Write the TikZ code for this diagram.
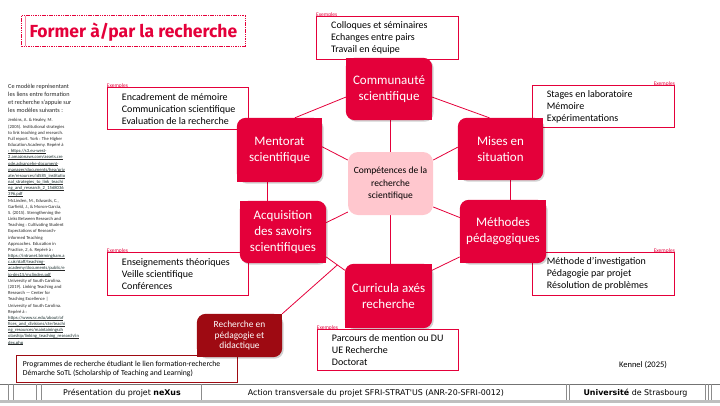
\documentclass[tikz,border=0pt]{standalone}
\usepackage{fontspec}
\setmainfont{Carlito}
\newfontfamily\titlefont{Fira Sans}
\newfontfamily\footfont{DejaVu Sans}
\usetikzlibrary{calc}
\definecolor{ured}{RGB}{228,0,58}
\definecolor{upink}{RGB}{255,199,206}
\definecolor{udark}{RGB}{158,10,18}
\definecolor{lnkc}{RGB}{25,45,45}
\pgfdeclarelayer{bg}
\pgfdeclarelayer{mid}
\pgfsetlayers{bg,mid,main}
\newcommand\lnk[1]{\sbox0{#1}\rlap{\color{black!85}\rule[-1.2pt]{\wd0}{1pt}}{\color{lnkc}#1}}
\newcommand\rfill[3]{%
 \begin{pgfonlayer}{mid}
  \fill[black, opacity=.18, rounded corners=9pt] ([shift={(1.5,1.5)}]#1.north west) rectangle ([shift={(1.5,1.5)}]#1.south east);
  \fill[#2, rounded corners=9pt] (#1.north west) rectangle (#1.south east);
  \ifx a#3
   \fill[#2] (#1.north east) rectangle ++(-10,10);
   \fill[#2] (#1.south west) rectangle ++(10,-10);
  \else
   \fill[#2] (#1.north west) rectangle ++(10,10);
   \fill[#2] (#1.south east) rectangle ++(-10,-10);
  \fi
 \end{pgfonlayer}}
\begin{document}
\begin{tikzpicture}[x=1pt,y=-1pt,
  redbox/.style={inner sep=0pt, align=center, text=white, font=\fontsize{13}{16}\selectfont},
  exbox/.style={draw=ured, line width=0.8pt, fill=white, anchor=north west, inner sep=0pt},
  extext/.style={anchor=west, inner sep=0pt, align=left, font=\fontsize{10}{12}\selectfont},
  exlab/.style={text=ured, inner sep=0pt, font=\fontsize{5.5}{6}\selectfont},
  link/.style={ured, line width=0.8pt},
  foot/.style={inner sep=0pt, font=\footfont\fontsize{7.9}{9}\selectfont}]
\useasboundingbox (0,0) rectangle (720,405);

% title
\draw[ured, line width=0.6pt, dash pattern=on 1.5pt off 0.8pt] (21.7,15.7) rectangle (245,46);
\draw[ured!45, line width=0.9pt] (25,15.7) -- (25,46);
\node[anchor=base west, inner sep=0pt, text=ured, font=\titlefont\bfseries\fontsize{17.5}{20}\selectfont] (title) at (29.3,37.3) {Former à/par la recherche};

% side text
\node[anchor=north west, inner sep=0pt, align=left, text=black!85, font=\fontsize{6.2}{8}\selectfont] (sidetop) at (8,84) {Ce modèle représentant\\les liens entre formation\\et recherche s'appuie sur\\les modèles suivants :};
\node[anchor=north west, inner sep=0pt, align=left, text=black!85, font=\fontsize{4.6}{6.17}\selectfont] (siderefs) at (8,118.5) {Jenkins, A. \& Healey, M.\\(2005). Institutional strategies\\to link teaching and research.\\Full report. York : The Higher\\Education Academy. Repéré à\\\lnk{: https://s3.eu-west-}\\\lnk{2.amazonaws.com/assets.cre}\\\lnk{ode.advancehe-document-}\\\lnk{manager/documents/hea/priv}\\\lnk{ate/resources/id585\_institutio}\\\lnk{nal\_strategies\_to\_link\_teachi}\\\lnk{ng\_and\_research\_2\_1568036}\\\lnk{396.pdf}\\McLinden, M., Edwards, C.,\\Garfield, J., \& Moron-Garcia,\\S. (2015). Strengthening the\\Links Between Research and\\Teaching : Cultivating Student\\Expectations of Research-\\informed Teaching\\Approaches. Education in\\Practice, \emph{2}, 6. Repéré à :\\\lnk{https://intranet.birmingham.a}\\\lnk{c.uk/staff/teaching-}\\\lnk{academy/documents/public/e}\\\lnk{ip-dec15/mclinden.pdf}\\University of South Carolina.\\(2019). Linking Teaching and\\Research — Center for\\Teaching Excellence |\\University of South Carolina.\\Repéré à :\\\lnk{https://www.sc.edu/about/of}\\\lnk{fices\_and\_divisions/cte/teachi}\\\lnk{ng\_resources/maintainingsch}\\\lnk{olarship/linking\_teaching\_research/in}\\\lnk{dex.php}};

% main nodes
\node[redbox, minimum width=86pt, minimum height=62pt] (comm) at (389,89) {Communauté\\scientifique};
\node[redbox, minimum width=85pt, minimum height=64pt] (ment) at (279.5,150) {Mentorat\\scientifique};
\node[redbox, minimum width=85pt, minimum height=62pt] (mises) at (500.5,149) {Mises en\\situation};
\node[redbox, minimum width=86pt, minimum height=62pt] (acq) at (283,232) {Acquisition\\des savoirs\\scientifiques};
\node[redbox, minimum width=86pt, minimum height=63pt] (meth) at (503,231.5) {Méthodes\\pédagogiques};
\node[redbox, minimum width=87pt, minimum height=64pt] (curr) at (388.5,296) {Curricula axés\\recherche};
\node[redbox, minimum width=85pt, minimum height=43pt, font=\fontsize{9.4}{10.8}\selectfont] (rech) at (239.5,335.5) {Recherche en\\pédagogie et\\didactique};
\node[fill=upink, rounded corners=10pt, minimum width=85pt, minimum height=63pt, inner sep=0pt, align=center, font=\fontsize{9.5}{12.5}\selectfont] (cent) at (390.5,183.5) {Compétences de la\\recherche\\scientifique};

\rfill{comm}{ured}{b}
\rfill{ment}{ured}{a}
\rfill{mises}{ured}{a}
\rfill{acq}{ured}{b}
\rfill{meth}{ured}{a}
\rfill{curr}{ured}{a}
\rfill{rech}{udark}{a}

\begin{pgfonlayer}{bg}
% connectors
\draw[link] ($(comm.north west)!0.63!(comm.south west)$) -- ($(ment.north west)!0.68!(ment.north east)$);
\draw[link] ($(comm.north east)!0.63!(comm.south east)$) -- ($(mises.north west)!0.37!(mises.north east)$);
\coordinate (mx) at ($(ment.south west)!0.36!(ment.south east)$);
\draw[link] (mx) -- (mx |- acq.north);
\coordinate (sx) at ($(mises.south west)!0.61!(mises.south east)$);
\draw[link] (sx) -- (sx |- meth.north);
\draw[link] ($(acq.north east)!0.9!(acq.south east)$) -- coordinate[pos=0.6] (acm) ($(curr.north west)!0.1!(curr.south west)$);
\draw[link] ($(meth.north west)!0.9!(meth.south west)$) -- ($(curr.north east)!0.1!(curr.south east)$);
\draw[link] (cent.north) -- (cent.north |- comm.south);
\draw[link] (cent.south) -- (cent.south |- curr.north);
\draw[link] ($(cent.north west)!0.13!(cent.south west)$) -- ($(ment.north east)!0.45!(ment.south east)$);
\draw[link] ($(cent.north west)!0.95!(cent.south west)$) -- ($(acq.north east)!0.35!(acq.south east)$);
\draw[link] ($(cent.north east)!0.13!(cent.south east)$) -- ($(mises.north west)!0.47!(mises.south west)$);
\draw[link] ($(cent.north east)!0.87!(cent.south east)$) -- ($(meth.north west)!0.28!(meth.south west)$);
\draw[link] (rech.north east) -- (acm);

% example boxes
\node[exbox, minimum width=142pt, minimum height=43pt] (excomm) at (316,16) {};
\node[extext] (txcomm) at ([xshift=15pt]excomm.west) {Colloques et séminaires\\Echanges entre pairs\\Travail en équipe};
\node[exbox, minimum width=141.6pt, minimum height=42pt] (exment) at (106.7,87.3) {};
\node[extext] (txment) at ([xshift=15pt]exment.west) {Encadrement de mémoire\\Communication scientifique\\Evaluation de la recherche};
\node[exbox, minimum width=142pt, minimum height=42.3pt] (exmises) at (532.3,85) {};
\node[extext] (txmises) at ([xshift=14.4pt]exmises.west) {Stages en laboratoire\\Mémoire\\Expérimentations};
\node[exbox, minimum width=141.6pt, minimum height=43.3pt] (exacq) at (106.7,251.7) {};
\node[extext] (txacq) at ([xshift=15pt]exacq.west) {Enseignements théoriques\\Veille scientifique\\Conférences};
\node[exbox, minimum width=142pt, minimum height=42.7pt] (exmeth) at (532.3,252.3) {};
\node[extext] (txmeth) at ([xshift=14.4pt]exmeth.west) {Méthode d’investigation\\Pédagogie par projet\\Résolution de problèmes};
\node[exbox, minimum width=141.6pt, minimum height=41pt] (excurr) at (316.7,329) {};
\node[extext] (txcurr) at ([xshift=15pt]excurr.west) {Parcours de mention ou DU\\UE Recherche\\Doctorat};
\node[exbox, draw=udark, minimum width=221.3pt, minimum height=27.3pt] (exrech) at (16,355) {};
\node[extext, font=\fontsize{7.7}{9.3}\selectfont] (txrech) at ([xshift=6.7pt]exrech.west) {Programmes de recherche étudiant le lien formation-recherche\\Démarche SoTL (Scholarship of Teaching and Learning)};
\end{pgfonlayer}

\node[exlab, anchor=base west] (lcomm) at ([yshift=-0.3pt]excomm.north west) {Exemples};
\node[exlab, anchor=base west] (lment) at ([yshift=-0.3pt]exment.north west) {Exemples};
\node[exlab, anchor=base east] (lmises) at ([yshift=-0.3pt]exmises.north east) {Exemples};
\node[exlab, anchor=base west] (lacq) at ([yshift=-0.3pt]exacq.north west) {Exemples};
\node[exlab, anchor=base east] (lmeth) at ([yshift=-0.3pt]exmeth.north east) {Exemples};
\node[exlab, anchor=base west] (lcurr) at ([yshift=-0.3pt]excurr.north west) {Exemples};

\node[inner sep=0pt, font=\fontsize{8.5}{10}\selectfont] (kennel) at (643,365) {Kennel (2025)};

% footer
\draw[black!55, line width=0.5pt] (0,384) -- (720,384);
\fill[black!25] (0,400) rectangle (720,402.5);
\foreach \fx in {8.3,13.3,36.7,41.7,201.7,566.7,569,705,708,711.7}
  \draw[black!45, line width=0.5pt] (\fx,384) -- (\fx,400);
\node[foot] (f1) at (122,393) {Présentation du projet \textbf{neXus}};
\node[foot] (f2) at (376,393) {Action transversale du projet SFRI-STRAT'US (ANR-20-SFRI-0012)};
\node[foot] (f3) at (635.5,393) {\textbf{Université} de Strasbourg};
\end{tikzpicture}
\end{document}
